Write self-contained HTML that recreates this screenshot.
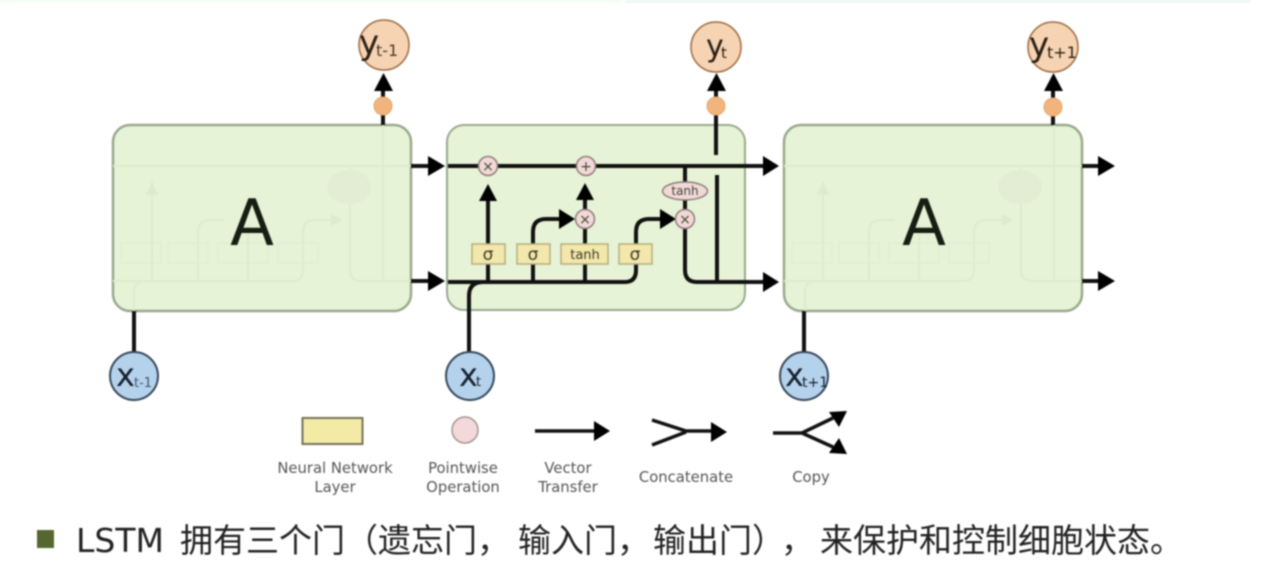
<!DOCTYPE html>
<html><head><meta charset="utf-8">
<style>
html,body{margin:0;padding:0;background:#fff;width:1262px;height:574px;overflow:hidden}
svg{display:block;filter:blur(.75px)}
text{font-family:"DejaVu Sans","Liberation Sans",sans-serif}
</style></head><body>
<svg width="1262" height="574" viewBox="0 0 1262 574" xmlns="http://www.w3.org/2000/svg">
<defs>
<g id="ghost" fill="none" stroke="#deebce" stroke-width="2">
<path d="M0 41H298M0 156H180q10 0 10-12V107q0-12 12-12h22M237 41V145q0 11 12 11h49M270 0V156M39 156V65M85 156V107q0-12 12-12h14M135 156V100M21 186V168q0-12 12-12"/>
<path d="M8 118h40v20h-40zM55 118h40v20h-40zM105 118h50v20h-50zM165 118h40v20h-40z" stroke="#e2edd3" stroke-width="1.500"/>
<path d="M33 70l6-14 6 14zM218 89l12 6-12 6z" fill="#deebce" stroke="none"/>
<ellipse cx="236" cy="62" rx="22" ry="17" fill="#e2edd3" stroke="none"/>
</g>
</defs>
<rect x="0" y="0" width="620" height="2" fill="#f2fbf2"/>
<rect x="625" y="0" width="625" height="3" fill="#ecf8f5"/>

<!-- Box fills -->
<rect x="113" y="125" width="298" height="186" rx="17" fill="#e6f3d6" stroke="#98a98d" stroke-width="2.500"/>
<rect x="447" y="125" width="298" height="185" rx="17" fill="#e6f3d6" stroke="#98a98d" stroke-width="2"/>
<rect x="784" y="125" width="298" height="186" rx="17" fill="#e6f3d6" stroke="#98a98d" stroke-width="2.500"/>
<use href="#ghost" x="113" y="125"/>
<use href="#ghost" x="784" y="125"/>
<text x="252" y="245" font-size="64" text-anchor="middle" fill="#161d12">A</text>
<text x="924" y="245" font-size="64" text-anchor="middle" fill="#161d12">A</text>

<!-- Outer connectors -->
<g stroke="#111" stroke-width="4" fill="none">
<path d="M411 166H432M411 281H432M1082 166H1102M1082 281H1102"/>
<path d="M134 311V352M804 311V352"/>
<path d="M383 125V82M716 155V82M1053 125V82"/>
<path d="M448 166H765M448 282H625q11 0 11-12V232q0-13 13-13h15M469 352V296q0-14 14-14M533 282V232q0-13 13-13h16M488 282V195M585 282V195M685 166V270q0 12 12 12H765M717 175V282"/>
</g>
<g fill="#000">
<path d="M428 156l17 10-17 10zM428 271l17 10-17 10z"/>
<path d="M763 156l16 10-16 10zM763 272l16 10-16 10z"/>
<path d="M1098 156l17 10-17 10zM1098 271l17 10-17 10z"/>
<path d="M374 91l9.500-18 9.500 18zM707 91l9.500-18 9.500 18zM1044 91l9.500-18 9.500 18z"/>
<path d="M479 201l9-17 9 17zM576 200l9-17 9 17z"/>
<path d="M559 209l16 10-16 10zM660 209l16 10-16 10z"/>
</g>

<!-- small output circles -->
<g fill="#f0b47c" stroke="#e6a76f" stroke-width="1">
<circle cx="383" cy="106" r="9"/><circle cx="716" cy="106" r="9"/><circle cx="1053" cy="107" r="9"/>
</g>

<!-- y circles -->
<g fill="#f6d3b3" stroke="#9d6b3f" stroke-width="1.500">
<circle cx="384" cy="45" r="25"/><circle cx="716" cy="47" r="25"/><circle cx="1053" cy="47" r="25"/>
</g>
<g fill="#2a1f14">
<text x="359" y="54" font-size="34" font-family="Liberation Sans">y</text><text x="376" y="56" font-size="16" fill="#4b3a2a" font-family="Liberation Sans">t-1</text>
<text x="706" y="56" font-size="30" font-family="Liberation Sans">y</text><text x="721" y="58" font-size="15" font-family="Liberation Sans">t</text>
<text x="1029" y="56" font-size="34" font-family="Liberation Sans">y</text><text x="1047" y="58" font-size="16" font-family="Liberation Sans">t+1</text>
</g>

<!-- x circles -->
<g fill="#b5d2ec" stroke="#34465a" stroke-width="2">
<circle cx="134" cy="376" r="24"/><circle cx="470" cy="376" r="24"/><circle cx="804" cy="376" r="24"/>
</g>
<g fill="#15202c">
<text x="116" y="386" font-size="32" font-family="Liberation Sans">x</text><text x="134" y="387" font-size="13" fill="#3e566e" font-family="Liberation Sans">t-1</text>
<text x="459" y="386" font-size="32" font-family="Liberation Sans">x</text><text x="476" y="386" font-size="13" font-family="Liberation Sans">t</text>
<text x="785" y="386" font-size="32" font-family="Liberation Sans">x</text><text x="802" y="387" font-size="14" font-family="Liberation Sans">t+1</text>
</g>

<!-- Layers -->
<g fill="#f3e7ab" stroke="#b5ad7c" stroke-width="1.500">
<rect x="472" y="244" width="33" height="20"/>
<rect x="517" y="244" width="33" height="20"/>
<rect x="561" y="244" width="47" height="20"/>
<rect x="619" y="244" width="33" height="20"/>
</g>
<g fill="#3d3a24" text-anchor="middle">
<text x="488" y="260" font-size="17">σ</text>
<text x="533" y="260" font-size="17">σ</text>
<text x="585" y="259" font-size="13">tanh</text>
<text x="635" y="260" font-size="17">σ</text>
</g>

<!-- Ops -->
<g fill="#f1d9d8" stroke="#8f7c7c" stroke-width="1.500">
<circle cx="488" cy="166" r="9.500"/><circle cx="586" cy="166" r="9.500"/>
<circle cx="585" cy="219" r="9.500"/><circle cx="685" cy="219" r="9.500"/>
<ellipse cx="685" cy="191" rx="22.500" ry="9"/>
</g>
<g fill="#443" text-anchor="middle">
<text x="488" y="171" font-size="14">×</text>
<text x="586" y="171" font-size="14">+</text>
<text x="585" y="224" font-size="14">×</text>
<text x="685" y="224" font-size="14">×</text>
<text x="685" y="195" font-size="12">tanh</text>
</g>

<!-- Legend -->
<rect x="302.500" y="418" width="60" height="26" fill="#f3eaa6" stroke="#75735a" stroke-width="2"/>
<circle cx="465" cy="430" r="13" fill="#f3d9da" stroke="#a59393" stroke-width="1.500"/>
<g stroke="#111" stroke-width="3.500" fill="none">
<path d="M535 431H595"/>
<path d="M652 420L686 431H712M652 445L686 432"/>
<path d="M773 433H802L833 418M802 433L833 447"/>
</g>
<g fill="#000">
<path d="M594 421l16 10-16 10zM711 422l16 10-16 10z"/>
<path d="M829 412l18-1-8 16zM829 453l18 1-8-16z"/>
</g>
<g fill="#555" font-size="14.800" text-anchor="middle">
<text x="335" y="473">Neural Network</text><text x="335" y="492">Layer</text>
<text x="463" y="473">Pointwise</text><text x="463" y="492">Operation</text>
<text x="568" y="473">Vector</text><text x="568" y="492">Transfer</text>
<text x="686" y="482">Concatenate</text>
<text x="811" y="482">Copy</text>
</g>

<!-- Caption -->
<rect x="37" y="530" width="17" height="18" fill="#55672f"/>
<g font-size="33" fill="#222" style="font-family:'Liberation Sans','Noto Sans CJK SC',sans-serif">
<text x="76" y="552" font-size="33">LSTM</text>
<text x="180" y="552">拥有三个门（遗忘门，</text>
<text x="518" y="552">输入门，</text>
<text x="653" y="552">输出门）</text>
<text x="781" y="552">，</text>
<text x="820" y="552">来保护和控制细胞状态。</text>
</g>
</svg>
</body></html>
